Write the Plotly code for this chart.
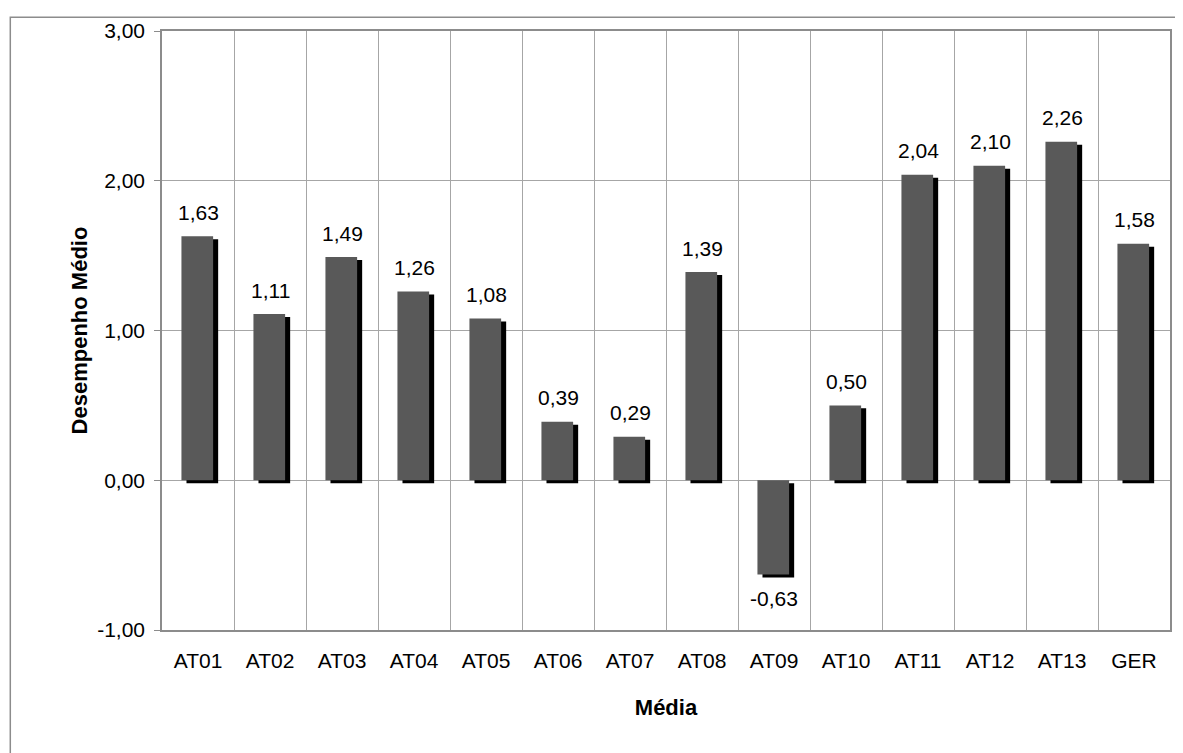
import plotly.graph_objects as go

categories = ["AT01", "AT02", "AT03", "AT04", "AT05", "AT06", "AT07",
              "AT08", "AT09", "AT10", "AT11", "AT12", "AT13", "GER"]
values = [1.63, 1.11, 1.49, 1.26, 1.08, 0.39, 0.29,
          1.39, -0.63, 0.50, 2.04, 2.10, 2.26, 1.58]
labels = [f"{v:.2f}".replace(".", ",") for v in values]
y_ticks = [-1, 0, 1, 2, 3]
y_tick_labels = ["-1,00", "0,00", "1,00", "2,00", "3,00"]

FONT = "Liberation Sans, Arial, sans-serif"
BAR_W = 0.44
FS = 21

fig = go.Figure()
# shadow
fig.add_trace(go.Bar(
    x=categories, y=values, base=[-0.02] * len(values),
    width=BAR_W, offset=-BAR_W / 2 + 0.06,
    marker=dict(color="#000000", line=dict(width=0)),
    hoverinfo="skip", showlegend=False,
))
# main bars
fig.add_trace(go.Bar(
    x=categories, y=values,
    width=BAR_W, offset=-BAR_W / 2 - 0.01,
    marker=dict(color="#595959", line=dict(width=0)),
    showlegend=False,
))

for c, v, t in zip(categories, values, labels):
    fig.add_annotation(x=c, y=v, text=t, showarrow=False,
                       yshift=24 if v >= 0 else -24,
                       font=dict(family=FONT, size=FS, color="#000000"))

# outer chart frame
fig.add_shape(type="rect", xref="paper", yref="paper",
              x0=-0.1505, y0=-0.4, x1=1.2, y1=1.0231,
              line=dict(color="#8c8c8c", width=1.5), layer="below")

fig.update_layout(
    width=1175, height=745,
    margin=dict(l=154, r=11, t=17, b=123),
    paper_bgcolor="white", plot_bgcolor="white",
    barmode="overlay",
    font=dict(family=FONT, size=FS, color="#000000"),
    xaxis=dict(
        type="category", tickson="boundaries",
        showgrid=True, gridcolor="#a6a6a6", gridwidth=1,
        showline=True, linecolor="#8c8c8c", linewidth=1.5, mirror=True,
        ticks="", ticklabelstandoff=11,
        title=dict(text="<b>Média</b>", standoff=29,
                   font=dict(family=FONT, size=22)),
        tickfont=dict(family=FONT, size=FS),
    ),
    yaxis=dict(
        range=[-1, 3], tickvals=y_ticks, ticktext=y_tick_labels,
        showgrid=True, gridcolor="#a6a6a6", gridwidth=1,
        zeroline=True, zerolinecolor="#a6a6a6", zerolinewidth=1,
        showline=True, linecolor="#8c8c8c", linewidth=1.5, mirror=True,
        ticks="outside", ticklen=6, tickcolor="#8c8c8c",
        ticklabelstandoff=5,
        title=dict(text="<b>Desempenho Médio</b>", standoff=3,
                   font=dict(family=FONT, size=22)),
        tickfont=dict(family=FONT, size=FS),
    ),
)

fig.write_html("out.html")
